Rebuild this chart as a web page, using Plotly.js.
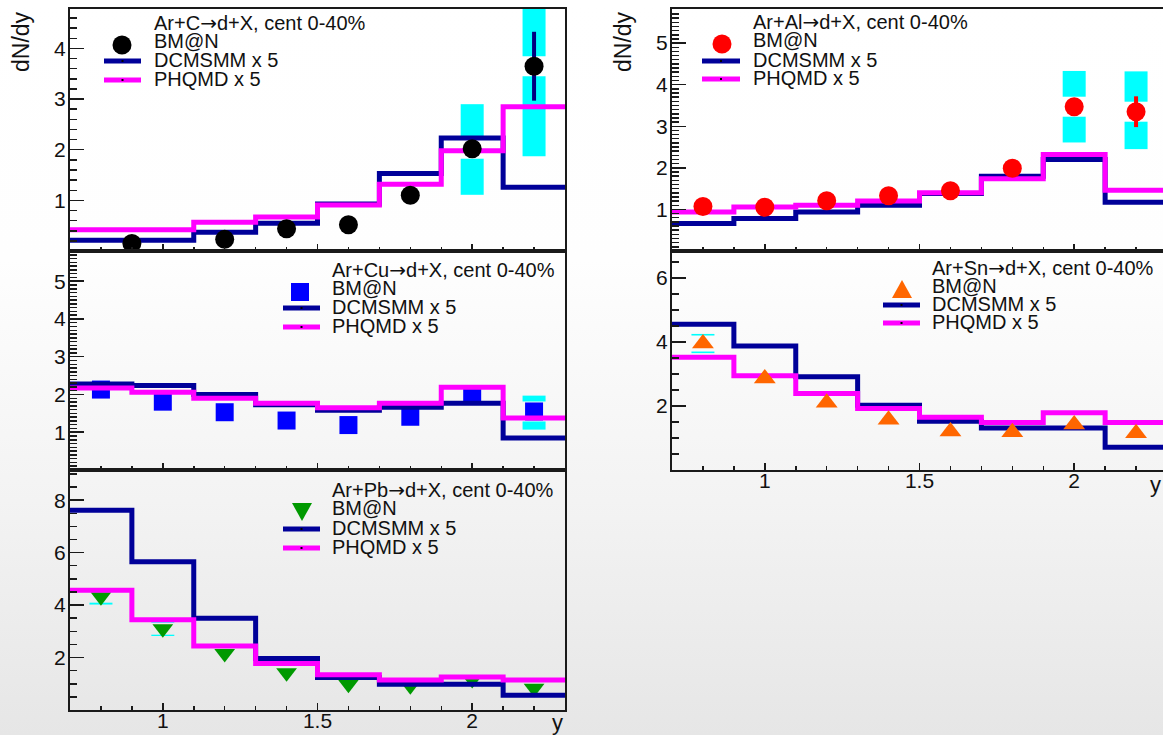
<!DOCTYPE html>
<html>
<head>
<meta charset="utf-8">
<script src="https://cdn.plot.ly/plotly-3.0.1.min.js"></script>
<style>
  html, body { margin: 0; padding: 0; overflow: hidden; }
  body {
    width: 1163px; height: 735px;
    background: linear-gradient(to bottom, #ffffff 0px, #fefefe 260px, #f3f3f3 500px, #e6e6e6 735px);
  }
  #chart { width: 1163px; height: 735px; }
</style>
</head>
<body>
<div id="chart"></div>
<script>
// Rapidity bins of the model histograms (DCMSMM, PHQMD, both scaled x5)
const binEdges = [0.7, 0.9, 1.1, 1.3, 1.5, 1.7, 1.9, 2.1, 2.3];
const yCenters = [0.8, 1.0, 1.2, 1.4, 1.6, 1.8, 2.0, 2.2];

// Ar+C -> d+X
const arC_y      = [0.9, 1.2, 1.4, 1.6, 1.8, 2.0, 2.2];
const arC_bmn    = [0.15, 0.23, 0.44, 0.52, 1.10, 2.02, 3.65];
const arC_stat   = [0.03, 0.03, 0.04, 0.05, 0.08, 0.15, 0.68];
const arC_sysUp  = [0.05, 0.05, 0.06, 0.06, 0.15, 0.88, 1.75];
const arC_sysDn  = [0.05, 0.05, 0.06, 0.06, 0.21, 0.91, 1.78];
const arC_dcm    = [0.21, 0.21, 0.37, 0.55, 0.93, 1.53, 2.23, 1.26];
const arC_phq    = [0.42, 0.42, 0.57, 0.67, 0.91, 1.32, 1.98, 2.85];

// Ar+Al -> d+X
const arAl_bmn   = [1.07, 1.05, 1.21, 1.33, 1.45, 1.99, 3.47, 3.35];
const arAl_stat  = [0.05, 0.05, 0.05, 0.05, 0.06, 0.08, 0.20, 0.37];
const arAl_sysUp = [0.10, 0.10, 0.10, 0.10, 0.10, 0.15, 0.86, 0.97];
const arAl_sysDn = [0.10, 0.10, 0.10, 0.10, 0.10, 0.15, 0.86, 0.90];
const arAl_dcm   = [0.66, 0.78, 0.94, 1.10, 1.38, 1.80, 2.20, 1.17];
const arAl_phq   = [0.94, 1.06, 1.10, 1.20, 1.40, 1.74, 2.32, 1.46];

// Ar+Cu -> d+X
const arCu_bmn   = [2.13, 1.81, 1.53, 1.31, 1.19, 1.41, 2.00, 1.55];
const arCu_stat  = [0.05, 0.05, 0.05, 0.05, 0.05, 0.06, 0.08, 0.10];
const arCu_sysUp = [0.10, 0.10, 0.10, 0.10, 0.10, 0.10, 0.12, 0.42];
const arCu_sysDn = [0.10, 0.10, 0.10, 0.10, 0.10, 0.10, 0.12, 0.48];
const arCu_dcm   = [2.28, 2.24, 2.00, 1.73, 1.58, 1.66, 1.77, 0.85];
const arCu_phq   = [2.17, 2.06, 1.90, 1.77, 1.65, 1.77, 2.19, 1.38];

// Ar+Sn -> d+X
const arSn_bmn   = [3.95, 2.86, 2.10, 1.57, 1.20, 1.18, 1.42, 1.15];
const arSn_stat  = [0.06, 0.05, 0.05, 0.04, 0.04, 0.04, 0.05, 0.05];
const arSn_sysUp = [0.30, 0.15, 0.12, 0.10, 0.10, 0.10, 0.12, 0.10];
const arSn_sysDn = [0.30, 0.15, 0.12, 0.10, 0.10, 0.10, 0.12, 0.10];
const arSn_dcm   = [4.55, 3.87, 2.91, 2.02, 1.52, 1.31, 1.31, 0.71];
const arSn_phq   = [3.52, 2.94, 2.39, 1.92, 1.65, 1.48, 1.79, 1.48];

// Ar+Pb -> d+X
const arPb_bmn   = [4.32, 3.10, 2.15, 1.42, 0.98, 0.92, 1.16, 0.83];
const arPb_stat  = [0.08, 0.06, 0.05, 0.04, 0.04, 0.04, 0.05, 0.05];
const arPb_sysUp = [0.30, 0.28, 0.15, 0.10, 0.10, 0.10, 0.12, 0.10];
const arPb_sysDn = [0.30, 0.28, 0.15, 0.10, 0.10, 0.10, 0.12, 0.10];
const arPb_dcm   = [7.62, 5.65, 3.50, 1.96, 1.24, 0.98, 0.98, 0.56];
const arPb_phq   = [4.57, 3.44, 2.44, 1.77, 1.34, 1.14, 1.26, 1.14];

// Axis ticks
const xTickVals = [1, 1.5, 2];
const xTickText = ['1', '1.5', '2'];
const yTicks_C  = [1, 2, 3, 4];
const yTicks_Al = [1, 2, 3, 4, 5];
const yTicks_Cu = [1, 2, 3, 4, 5];
const yTicks_Sn = [2, 4, 6];
const yTicks_Pb = [2, 4, 6, 8];

// Legend labels
const ARROW = '<span style="font-family:\'DejaVu Sans\'">\u2192</span>';
const legendLabels = ['BM@N', 'DCMSMM x 5', 'PHQMD x 5'];
const panelTitles = {
  C:  'Ar+C' + ARROW + 'd+X, cent 0-40%',
  Al: 'Ar+Al' + ARROW + 'd+X, cent 0-40%',
  Cu: 'Ar+Cu' + ARROW + 'd+X, cent 0-40%',
  Sn: 'Ar+Sn' + ARROW + 'd+X, cent 0-40%',
  Pb: 'Ar+Pb' + ARROW + 'd+X, cent 0-40%'
};

// ---------------------------------------------------------------------------
const W = 1163, H = 735;
const FONT = '"Liberation Sans", Arial, Helvetica, sans-serif';
const DCM_COLOR = '#000099';
const PHQ_COLOR = '#ff00ff';
const SYS_COLOR = '#00ffff';
const FRAME = '#1a1a1a';

const px = v => v / W;
const py = v => 1 - v / H;

// pixel geometry of the five pads
const colL = [70, 565], colR = [672, 1163];
const pads = {
  C:  { xa: 'x',  ya: 'y',  col: colL, rows: [9, 251],   yr: [0, 4.78], ticks: yTicks_C,  minor: 0.2, xlabels: false, ymirror: true },
  Cu: { xa: 'x2', ya: 'y2', col: colL, rows: [251, 470], yr: [0, 5.80], ticks: yTicks_Cu, minor: 0.1, xlabels: false, ymirror: true },
  Pb: { xa: 'x3', ya: 'y3', col: colL, rows: [470, 710], yr: [0, 9.15], ticks: yTicks_Pb, minor: 0.5, xlabels: true,  ymirror: true },
  Al: { xa: 'x4', ya: 'y4', col: colR, rows: [9, 251],   yr: [0, 5.82], ticks: yTicks_Al, minor: 0.1, xlabels: false, ymirror: false },
  Sn: { xa: 'x5', ya: 'y5', col: colR, rows: [251, 470], yr: [0, 6.84], ticks: yTicks_Sn, minor: 0.5, xlabels: true,  ymirror: false }
};
const xUnitPx = (colL[1] - colL[0]) / (binEdges[binEdges.length - 1] - binEdges[0]);

function histTrace(pad, vals, color) {
  return {
    type: 'scatter', mode: 'lines', xaxis: pad.xa, yaxis: pad.ya,
    x: binEdges, y: vals.concat([vals[vals.length - 1]]),
    line: { shape: 'hv', color: color, width: 5 },
    hoverinfo: 'skip', showlegend: false
  };
}

// systematic errors: thick cyan bars, interrupted around the marker
function sysTrace(pad, xs, vals, up, dn, gapPx) {
  const ppu = (pad.rows[1] - pad.rows[0]) / (pad.yr[1] - pad.yr[0]);
  const g = gapPx / ppu;
  const X = [], Y = [];
  xs.forEach((x, i) => {
    if (up[i] > g) { X.push(x, x, null); Y.push(vals[i] + g, vals[i] + up[i], null); }
    if (dn[i] > g) { X.push(x, x, null); Y.push(vals[i] - g, vals[i] - dn[i], null); }
  });
  return {
    type: 'scatter', mode: 'lines', xaxis: pad.xa, yaxis: pad.ya, x: X, y: Y,
    line: { color: SYS_COLOR, width: 23 }, connectgaps: false,
    hoverinfo: 'skip', showlegend: false
  };
}

function pointTrace(pad, xs, vals, stat, symbol, color, size, statColor) {
  return {
    type: 'scatter', mode: 'markers', xaxis: pad.xa, yaxis: pad.ya, x: xs, y: vals,
    marker: { symbol: symbol, color: color, size: size, line: { width: 0 } },
    error_y: { type: 'data', array: stat, visible: true, color: statColor, thickness: 4, width: 0 },
    cliponaxis: true, showlegend: false
  };
}

const data = [];
function addPanel(pad, xs, bmn, stat, up, dn, dcm, phq, sym, color, size, statColor, gapPx, linesOnTop) {
  data.push(sysTrace(pad, xs, bmn, up, dn, gapPx));
  const pts = pointTrace(pad, xs, bmn, stat, sym, color, size, statColor);
  if (!linesOnTop) data.push(histTrace(pad, dcm, DCM_COLOR), histTrace(pad, phq, PHQ_COLOR), pts);
  else data.push(pts, histTrace(pad, dcm, DCM_COLOR), histTrace(pad, phq, PHQ_COLOR));
}

addPanel(pads.C,  arC_y,    arC_bmn,  arC_stat,  arC_sysUp,  arC_sysDn,  arC_dcm,  arC_phq,  'circle',        '#000000', 19, '#00007f', 10, false);
addPanel(pads.Al, yCenters, arAl_bmn, arAl_stat, arAl_sysUp, arAl_sysDn, arAl_dcm, arAl_phq, 'circle',        '#ff0000', 19, '#ff0000', 10, false);
addPanel(pads.Cu, yCenters, arCu_bmn, arCu_stat, arCu_sysUp, arCu_sysDn, arCu_dcm, arCu_phq, 'square',        '#0000ff', 18, '#0000ff', 10, true);
addPanel(pads.Sn, yCenters, arSn_bmn, arSn_stat, arSn_sysUp, arSn_sysDn, arSn_dcm, arSn_phq, 'triangle-up',   '#ff6600', 19, '#ff6600', 8, false);
addPanel(pads.Pb, yCenters, arPb_bmn, arPb_stat, arPb_sysUp, arPb_sysDn, arPb_dcm, arPb_phq, 'triangle-down', '#009900', 18, '#009900', 6, true);

// ---------------------------------------------------------------------------
const layout = {
  width: W, height: H,
  margin: { l: 0, r: 0, t: 0, b: 0, pad: 0 },
  paper_bgcolor: 'rgba(0,0,0,0)', plot_bgcolor: 'rgba(0,0,0,0)',
  font: { family: FONT, color: '#111111', size: 20 },
  showlegend: false,
  annotations: [], shapes: []
};

Object.values(pads).forEach(p => {
  const xk = 'xaxis' + p.xa.slice(1), yk = 'yaxis' + p.ya.slice(1);
  const xRange = [binEdges[0], binEdges[0] + (p.col[1] - p.col[0]) / xUnitPx];
  layout[xk] = {
    domain: [px(p.col[0]), px(p.col[1])], range: xRange, anchor: p.ya,
    showline: true, mirror: true, linecolor: FRAME, linewidth: 2,
    ticks: 'inside', tickmode: 'array', tickvals: xTickVals, ticktext: xTickText,
    ticklen: 7, tickwidth: 1.5, tickcolor: FRAME,
    minor: { ticks: 'inside', tick0: 0, dtick: 0.1, ticklen: 4, tickwidth: 1.5, tickcolor: FRAME, showgrid: false },
    showticklabels: p.xlabels, ticklabelstandoff: -9,
    tickfont: { family: FONT, size: 21, color: '#111111' },
    showgrid: false, zeroline: false, fixedrange: true
  };
  layout[yk] = {
    domain: [py(p.rows[1]), py(p.rows[0])], range: p.yr, anchor: p.xa,
    showline: true, mirror: p.ymirror, linecolor: FRAME, linewidth: 2,
    ticks: 'inside', tickmode: 'array', tickvals: p.ticks, ticktext: p.ticks.map(String),
    ticklen: 14, tickwidth: 1.5, tickcolor: FRAME,
    minor: { ticks: 'inside', tick0: 0, dtick: p.minor, ticklen: 7, tickwidth: 1.5, tickcolor: FRAME, showgrid: false },
    ticklabelstandoff: -2,
    tickfont: { family: FONT, size: 21, color: '#111111' },
    showgrid: false, zeroline: false, fixedrange: true
  };
});

// axis titles
function note(text, x, y, opts) {
  layout.annotations.push(Object.assign({
    text: text, xref: 'paper', yref: 'paper', x: px(x), y: py(y),
    showarrow: false, xanchor: 'left', yanchor: 'middle',
    font: { family: FONT, size: 20, color: '#111111' }
  }, opts || {}));
}
note('dN/dy', 21, 42, { textangle: -90, xanchor: 'center', font: { family: FONT, size: 23, color: '#111111' } });
note('dN/dy', 623, 42, { textangle: -90, xanchor: 'center', font: { family: FONT, size: 23, color: '#111111' } });
note('y', 557, 722, { xanchor: 'center', font: { family: FONT, size: 22, color: '#111111' } });
note('y', 1155, 485, { xanchor: 'center', font: { family: FONT, size: 22, color: '#111111' } });

// legend blocks
const legends = [
  { title: panelTitles.C,  tx: 152, rows: [23, 41, 60, 79],     mx: 122, my: 45,  lx: [104, 141], sym: 'circle', color: '#000000' },
  { title: panelTitles.Al, tx: 751, rows: [22, 40, 60, 78],     mx: 722, my: 44,  lx: [702, 740], sym: 'circle', color: '#ff0000' },
  { title: panelTitles.Cu, tx: 330, rows: [270, 288, 307, 326], mx: 300, my: 292, lx: [283, 320], sym: 'square', color: '#0000ff' },
  { title: panelTitles.Sn, tx: 930, rows: [268, 286, 304, 322], mx: 902, my: 290, lx: [883, 920], sym: 'tri-up', color: '#ff6600' },
  { title: panelTitles.Pb, tx: 330, rows: [490, 508, 528, 547], mx: 302, my: 511, lx: [283, 320], sym: 'tri-dn', color: '#009900' }
];

legends.forEach(L => {
  note(L.title, L.tx, L.rows[0]);
  legendLabels.forEach((t, i) => note(t, L.tx, L.rows[i + 1]));
  const base = { xref: 'paper', yref: 'paper', xsizemode: 'pixel', ysizemode: 'pixel',
                 xanchor: px(L.mx), yanchor: py(L.my), fillcolor: L.color, line: { width: 0 } };
  if (L.sym === 'circle') layout.shapes.push(Object.assign({ type: 'circle', x0: -9.5, x1: 9.5, y0: -9.5, y1: 9.5 }, base));
  else if (L.sym === 'square') layout.shapes.push(Object.assign({ type: 'rect', x0: -9, x1: 9, y0: -9, y1: 9 }, base));
  else if (L.sym === 'tri-up') layout.shapes.push(Object.assign({ type: 'path', path: 'M-10,-8 L10,-8 L0,10 Z' }, base));
  else layout.shapes.push(Object.assign({ type: 'path', path: 'M-10,8 L10,8 L0,-10 Z' }, base));
  [[DCM_COLOR, L.rows[2]], [PHQ_COLOR, L.rows[3]]].forEach(([c, yy]) => {
    layout.shapes.push({ type: 'line', xref: 'paper', yref: 'paper',
      x0: px(L.lx[0]), x1: px(L.lx[1]), y0: py(yy + 1), y1: py(yy + 1), line: { color: c, width: 5 } });
    layout.shapes.push({ type: 'rect', xref: 'paper', yref: 'paper', xsizemode: 'pixel', ysizemode: 'pixel',
      xanchor: px((L.lx[0] + L.lx[1]) / 2), yanchor: py(yy + 1), x0: -1, x1: 1, y0: -1, y1: 1,
      fillcolor: '#000000', line: { width: 0 } });
  });
});

Plotly.newPlot('chart', data, layout, { staticPlot: true, displayModeBar: false });
</script>
</body>
</html>
